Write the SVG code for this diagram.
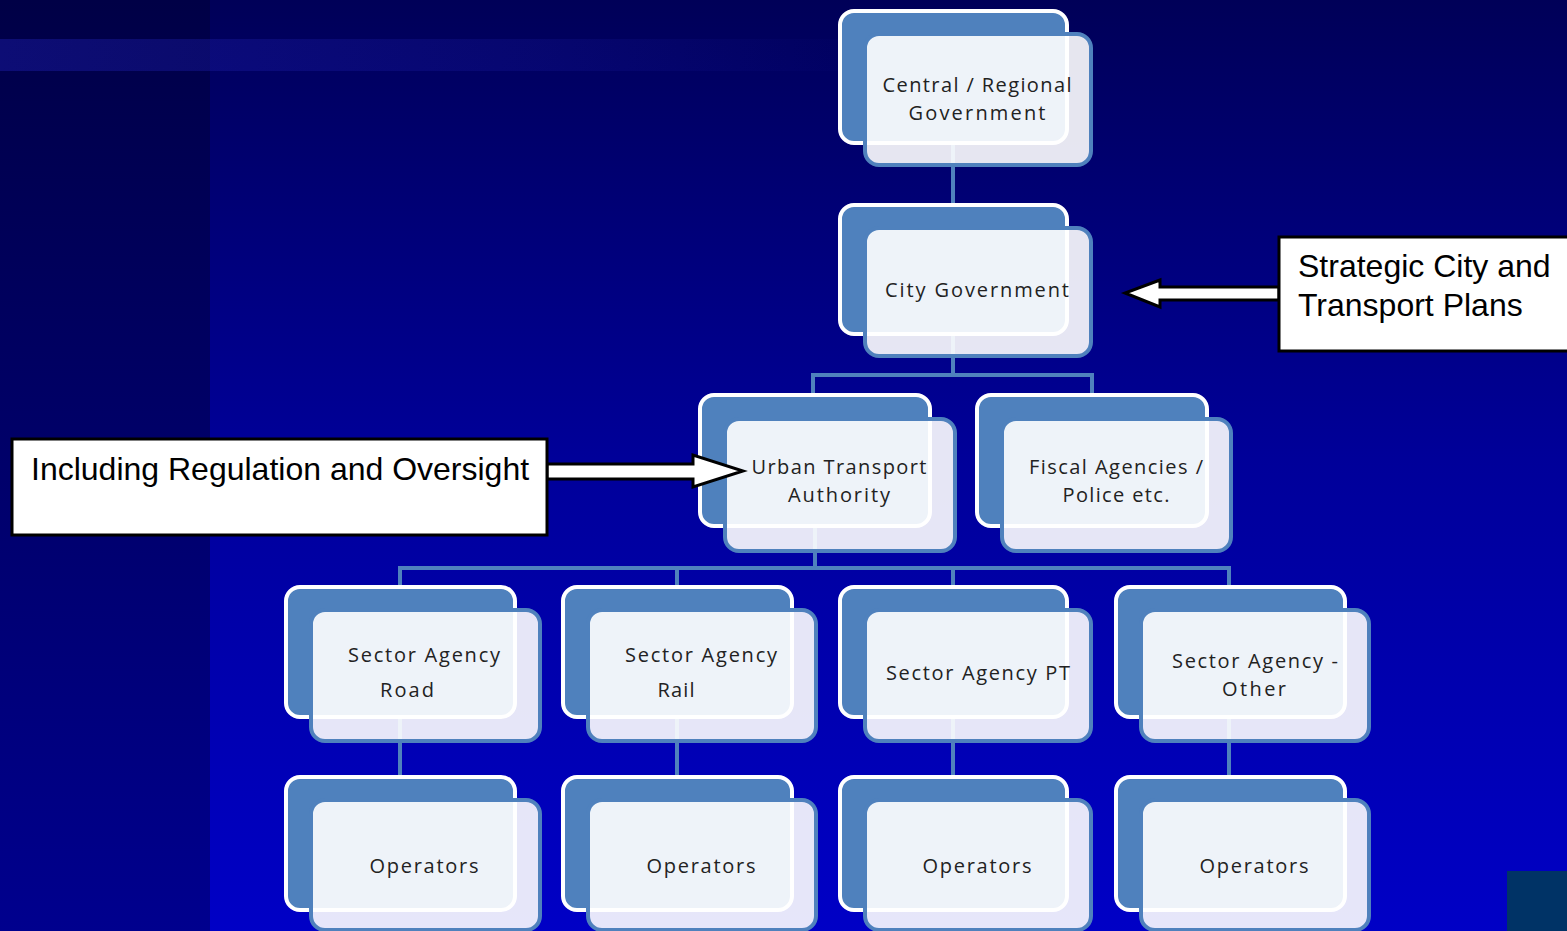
<svg xmlns="http://www.w3.org/2000/svg" width="1567" height="931" viewBox="0 0 1567 931">
<defs>
<linearGradient id="bgMain" x1="0" y1="0" x2="0" y2="1">
<stop offset="0" stop-color="#000058"/>
<stop offset="0.5" stop-color="#00009a"/>
<stop offset="1" stop-color="#0000c6"/>
</linearGradient>
<linearGradient id="bgLeft" x1="0" y1="0" x2="0" y2="1">
<stop offset="0" stop-color="#000046"/>
<stop offset="1" stop-color="#00008e"/>
</linearGradient>
<linearGradient id="band" x1="0" y1="0" x2="1" y2="0">
<stop offset="0" stop-color="#1a1aa0" stop-opacity="0.5"/>
<stop offset="0.6" stop-color="#1a1aa0" stop-opacity="0.25"/>
<stop offset="1" stop-color="#1a1aa0" stop-opacity="0"/>
</linearGradient>
<style>
.back{fill:#4f81bd;stroke:#ffffff;stroke-width:4}
.front{fill:#ffffff;fill-opacity:0.9;stroke:#4f81bd;stroke-width:4}
.lbl{font-family:"Open Sans","Noto Sans",sans-serif;font-size:20px;fill:#222222;text-anchor:middle}
.conn{fill:none;stroke:#4f81bd;stroke-width:4}
.callout{fill:#ffffff;stroke:#000000;stroke-width:3}
.ctext{font-family:"Liberation Sans",Arial,sans-serif;font-size:32px;fill:#000000}
.arrow{fill:#ffffff;stroke:#000000;stroke-width:3;stroke-linejoin:miter}
</style>
</defs>
<g id="background">
<rect x="0" y="0" width="1567" height="931" fill="url(#bgMain)"/>
<rect x="0" y="0" width="210" height="931" fill="url(#bgLeft)"/>
<rect x="0" y="39" width="900" height="32" fill="url(#band)"/>
<rect x="1507" y="871" width="60" height="60" fill="#003366"/>
</g>
<g id="connectors">
<path class="conn" d="M953 140 V210"/>
<path class="conn" d="M953 330 V375 M813 400 V375 H1092 V400"/>
<path class="conn" d="M815 520 V568 M400 592 V568 H1229 V592 M677 568 V592 M953 568 V592"/>
<path class="conn" d="M400 710 V782 M677 710 V782 M953 710 V782 M1229 710 V782"/>
</g>
<g id="node-central">
<rect class="back" x="840" y="11" width="227" height="132" rx="14"/>
<rect class="front" x="865" y="34" width="226" height="131" rx="14"/>
<text class="lbl" x="977" y="92" textLength="189">Central / Regional</text>
<text class="lbl" x="977" y="120" textLength="137">Government</text>
</g>
<g id="node-city">
<rect class="back" x="840" y="205" width="227" height="129" rx="14"/>
<rect class="front" x="865" y="228" width="226" height="128" rx="14"/>
<text class="lbl" x="977" y="297" textLength="184">City Government</text>
</g>
<g id="node-uta">
<rect class="back" x="700" y="395" width="230" height="131" rx="14"/>
<rect class="front" x="725" y="419" width="230" height="132" rx="14"/>
<text class="lbl" x="839" y="474" textLength="175">Urban Transport</text>
<text class="lbl" x="839" y="502" textLength="102">Authority</text>
</g>
<g id="node-fiscal">
<rect class="back" x="977" y="395" width="230" height="131" rx="14"/>
<rect class="front" x="1002" y="419" width="229" height="132" rx="14"/>
<text class="lbl" x="1116" y="474" textLength="174">Fiscal Agencies /</text>
<text class="lbl" x="1116" y="502" textLength="107">Police etc.</text>
</g>
<g id="node-road">
<rect class="back" x="286" y="587" width="229" height="130" rx="14"/>
<rect class="front" x="311" y="610" width="229" height="131" rx="14"/>
<text class="lbl" x="424" y="662" textLength="152">Sector Agency</text>
<text class="lbl" x="407" y="697" textLength="54">Road</text>
</g>
<g id="node-rail">
<rect class="back" x="563" y="587" width="229" height="130" rx="14"/>
<rect class="front" x="588" y="610" width="228" height="131" rx="14"/>
<text class="lbl" x="701" y="662" textLength="152">Sector Agency</text>
<text class="lbl" x="676" y="697" textLength="37">Rail</text>
</g>
<g id="node-pt">
<rect class="back" x="840" y="587" width="227" height="130" rx="14"/>
<rect class="front" x="865" y="610" width="226" height="131" rx="14"/>
<text class="lbl" x="978" y="680" textLength="184">Sector Agency PT</text>
</g>
<g id="node-other">
<rect class="back" x="1116" y="587" width="229" height="130" rx="14"/>
<rect class="front" x="1141" y="610" width="228" height="131" rx="14"/>
<text class="lbl" x="1255" y="668" textLength="166">Sector Agency -</text>
<text class="lbl" x="1254" y="696" textLength="64">Other</text>
</g>
<g id="node-ops-road">
<rect class="back" x="286" y="777" width="229" height="133" rx="14"/>
<rect class="front" x="311" y="800" width="229" height="130" rx="14"/>
<text class="lbl" x="424" y="873" textLength="109">Operators</text>
</g>
<g id="node-ops-rail">
<rect class="back" x="563" y="777" width="229" height="133" rx="14"/>
<rect class="front" x="588" y="800" width="228" height="130" rx="14"/>
<text class="lbl" x="701" y="873" textLength="109">Operators</text>
</g>
<g id="node-ops-pt">
<rect class="back" x="840" y="777" width="227" height="133" rx="14"/>
<rect class="front" x="865" y="800" width="226" height="130" rx="14"/>
<text class="lbl" x="977" y="873" textLength="109">Operators</text>
</g>
<g id="node-ops-other">
<rect class="back" x="1116" y="777" width="229" height="133" rx="14"/>
<rect class="front" x="1141" y="800" width="228" height="130" rx="14"/>
<text class="lbl" x="1254" y="873" textLength="109">Operators</text>
</g>
<g id="callout-regulation">
<polygon class="arrow" points="547,464 693,464 693,455 743,471 693,487 693,479 547,479"/>
<rect class="callout" x="12" y="439" width="535" height="96"/>
<text class="ctext" x="31" y="480">Including Regulation and Oversight</text>
</g>
<g id="callout-strategic">
<polygon class="arrow" points="1279,287 1160,287 1160,280 1125,293 1160,307 1160,300 1279,300"/>
<rect class="callout" x="1279" y="237" width="296" height="114"/>
<text class="ctext" x="1298" y="277">Strategic City and</text>
<text class="ctext" x="1298" y="316">Transport Plans</text>
</g>
</svg>
